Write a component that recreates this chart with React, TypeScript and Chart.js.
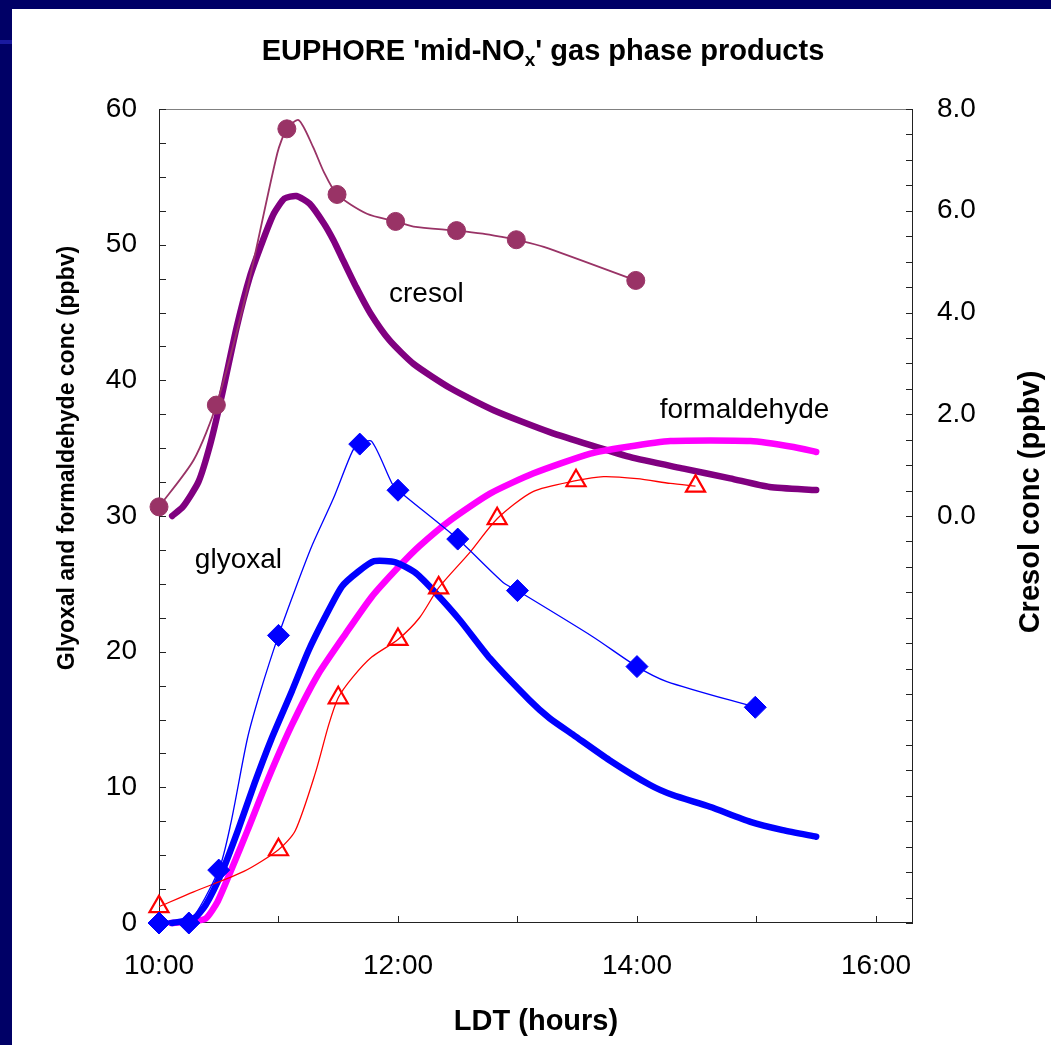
import React, { useEffect, useRef } from "react";
import { Chart, registerables } from "chart.js";

Chart.register(...registerables);

// ---------- axis ticks ----------
const X_LABEL_TICKS = [10, 12, 14, 16];
const LEFT_LABEL_TICKS = [0, 10, 20, 30, 40, 50, 60];
const RIGHT_LABEL_TICKS = [0, 2, 4, 6, 8];

// ---------- cresol (right axis, ppbv) ----------
const cresolObsX = [10.0, 10.48, 11.07, 11.49, 11.98, 12.49, 12.99, 13.99];
const cresolObsY = [0.18, 2.18, 7.61, 6.32, 5.79, 5.61, 5.43, 4.63];
const cresolFitX = [10.0, 10.29, 10.48, 10.73, 10.99, 11.07, 11.17, 11.29, 11.38, 11.49, 11.74, 11.98, 12.13, 12.49, 12.71, 12.88, 12.99, 13.22, 13.99];
const cresolFitY = [0.18, 1.1, 2.18, 4.37, 7.13, 7.61, 7.78, 7.25, 6.76, 6.32, 5.94, 5.79, 5.69, 5.61, 5.55, 5.48, 5.43, 5.29, 4.63];
const cresolModelX = [10.11, 10.2, 10.33, 10.43, 10.53, 10.65, 10.76, 10.87, 10.96, 11.05, 11.15, 11.26, 11.38, 11.46, 11.54, 11.65, 11.77, 11.93, 12.13, 12.44, 12.8, 13.27, 13.94, 14.39, 14.78, 15.11, 15.5];
const cresolModelY = [0, 0.18, 0.67, 1.42, 2.41, 3.71, 4.7, 5.42, 5.94, 6.24, 6.29, 6.14, 5.75, 5.42, 5.03, 4.5, 3.98, 3.45, 2.99, 2.51, 2.08, 1.65, 1.16, 0.93, 0.74, 0.57, 0.51];

// ---------- glyoxal (left axis, ppbv) ----------
const glyoxalObsX = [10.0, 10.25, 10.5, 11.0, 11.68, 12.0, 12.5, 13.0, 14.0, 14.99];
const glyoxalObsY = [0, 0, 3.9, 21.2, 35.3, 31.9, 28.3, 24.5, 18.9, 15.9];
const glyoxalFitX = [10.0, 10.12, 10.25, 10.5, 10.6, 10.74, 10.85, 11.0, 11.14, 11.28, 11.46, 11.62, 11.68, 11.78, 11.95, 12.0, 12.5, 12.88, 13.0, 13.63, 14.0, 14.25, 14.99];
const glyoxalFitY = [0, 0.2, 0, 3.9, 7.3, 13.6, 17.1, 21.2, 24.6, 27.8, 31.3, 34.8, 35.3, 35.5, 32.4, 31.9, 28.3, 25.1, 24.5, 21.1, 18.9, 17.8, 15.9];
const glyoxalModelX = [10.11, 10.29, 10.39, 10.53, 10.66, 10.8, 10.94, 11.11, 11.25, 11.39, 11.53, 11.67, 11.8, 11.98, 12.15, 12.32, 12.52, 12.77, 13.1, 13.27, 13.47, 13.77, 14.11, 14.3, 14.61, 14.95, 15.22, 15.5];
const glyoxalModelY = [0, 0.32, 1.32, 3.82, 6.81, 10.31, 13.55, 17.05, 20.05, 22.55, 24.8, 25.92, 26.67, 26.59, 25.79, 24.29, 22.3, 19.5, 16.43, 15.08, 13.85, 12.0, 10.17, 9.43, 8.57, 7.46, 6.85, 6.36];

// ---------- formaldehyde (left axis, ppbv) ----------
const formObsX = [10.0, 11.0, 11.5, 12.0, 12.34, 12.83, 13.49, 14.49];
const formObsY = [1.2, 5.4, 16.6, 20.9, 24.7, 29.8, 32.6, 32.2];
const formFitX = [10.0, 10.29, 10.71, 11.0, 11.14, 11.31, 11.42, 11.5, 11.62, 11.78, 12.0, 12.18, 12.34, 12.6, 12.83, 13.13, 13.49, 13.72, 14.0, 14.28, 14.49];
const formFitY = [1.2, 2.3, 3.8, 5.4, 6.8, 11.1, 14.6, 16.6, 18.1, 19.6, 20.9, 22.5, 24.7, 27.3, 29.8, 31.8, 32.6, 32.9, 32.75, 32.4, 32.2];
const formModelX = [10.1, 10.26, 10.39, 10.49, 10.6, 10.74, 10.91, 11.11, 11.33, 11.56, 11.78, 12.01, 12.18, 12.44, 12.77, 13.13, 13.61, 13.91, 14.28, 14.95, 15.31, 15.5];
const formModelY = [0, 0.1, 0.32, 1.57, 3.82, 6.81, 10.56, 14.56, 18.3, 21.3, 24.04, 26.29, 27.79, 29.7, 31.65, 33.13, 34.6, 35.09, 35.53, 35.53, 35.09, 34.72];

// ---------- texts ----------
const TITLE_MAIN = "EUPHORE 'mid-NO";
const TITLE_SUB = "x";
const TITLE_END = "' gas phase products";
const X_TITLE = "LDT (hours)";
const LEFT_TITLE = "Glyoxal and formaldehyde conc (ppbv)";
const RIGHT_TITLE = "Cresol conc (ppbv)";
const LABELS = [
  { text: "cresol", x: 11.925, y: 45.8 },
  { text: "glyoxal", x: 10.3, y: 26.2 },
  { text: "formaldehyde", x: 14.19, y: 37.2 },
];

const FONT = "'Liberation Sans', Arial, Helvetica, sans-serif";
const NAVY = "#000066";

const pts = (xs: number[], ys: number[]) => xs.map((x, i) => ({ x, y: ys[i] }));

const framePlugin = {
  id: "frameTicks",
  beforeDatasetsDraw(chart: any) {
    const { ctx, chartArea: a, scales } = chart;
    ctx.save();
    ctx.lineWidth = 1;
    ctx.strokeStyle = "#808080";
    ctx.beginPath();
    ctx.moveTo(a.left, a.top + 0.5);
    ctx.lineTo(a.right, a.top + 0.5);
    ctx.stroke();
    ctx.strokeStyle = "#222";
    ctx.beginPath();
    ctx.moveTo(a.left + 0.5, a.top);
    ctx.lineTo(a.left + 0.5, a.bottom);
    ctx.moveTo(a.right - 0.5, a.top);
    ctx.lineTo(a.right - 0.5, a.bottom);
    ctx.moveTo(a.left, a.bottom - 0.5);
    ctx.lineTo(a.right, a.bottom - 0.5);
    for (let v = 0; v <= 60.001; v += 2.5) {
      const y = Math.round(scales.y.getPixelForValue(v)) + 0.5;
      ctx.moveTo(a.left, y);
      ctx.lineTo(a.left + 7, y);
    }
    for (let v = -8; v <= 8.001; v += 0.5) {
      const y = Math.round(scales.y1.getPixelForValue(v)) + 0.5;
      ctx.moveTo(a.right, y);
      ctx.lineTo(a.right - 7, y);
    }
    for (let h = 11; h <= 16; h += 1) {
      const x = Math.round(scales.x.getPixelForValue(h)) + 0.5;
      ctx.moveTo(x, a.bottom);
      ctx.lineTo(x, a.bottom - 7);
    }
    ctx.stroke();
    ctx.restore();
  },
  afterDraw(chart: any) {
    const { ctx, chartArea: a, scales } = chart;
    ctx.save();
    ctx.fillStyle = "#000";
    const tSize = 29;
    const sSize = Math.round(tSize * 0.65);
    ctx.font = `bold ${tSize}px ${FONT}`;
    const w1 = ctx.measureText(TITLE_MAIN).width;
    const w3 = ctx.measureText(TITLE_END).width;
    ctx.font = `bold ${sSize}px ${FONT}`;
    const w2 = ctx.measureText(TITLE_SUB).width;
    const total = w1 + w2 + w3;
    let tx = 543 - total / 2;
    const ty = 60;
    ctx.textBaseline = "alphabetic";
    ctx.textAlign = "left";
    ctx.font = `bold ${tSize}px ${FONT}`;
    ctx.fillText(TITLE_MAIN, tx, ty);
    tx += w1;
    ctx.font = `bold ${sSize}px ${FONT}`;
    ctx.fillText(TITLE_SUB, tx, ty + 6);
    tx += w2;
    ctx.font = `bold ${tSize}px ${FONT}`;
    ctx.fillText(TITLE_END, tx, ty);

    ctx.textAlign = "center";
    ctx.textBaseline = "middle";
    ctx.font = `bold 29px ${FONT}`;
    ctx.fillText(X_TITLE, (a.left + a.right) / 2, 1022);

    ctx.save();
    ctx.translate(68, 458);
    ctx.rotate(-Math.PI / 2);
    ctx.font = `bold 23px ${FONT}`;
    ctx.fillText(LEFT_TITLE, 0, 0);
    ctx.restore();

    ctx.save();
    ctx.translate(1031, 502);
    ctx.rotate(-Math.PI / 2);
    ctx.font = `bold 29px ${FONT}`;
    ctx.fillText(RIGHT_TITLE, 0, 0);
    ctx.restore();

    ctx.textAlign = "left";
    ctx.textBaseline = "alphabetic";
    ctx.font = `28px ${FONT}`;
    for (const l of LABELS) {
      ctx.fillText(l.text, scales.x.getPixelForValue(l.x), scales.y.getPixelForValue(l.y));
    }
    ctx.restore();
  },
};

export default function App() {
  const ref = useRef<HTMLCanvasElement>(null);
  useEffect(() => {
    const tickFont = { family: FONT, size: 28 };
    const chart = new Chart(ref.current as HTMLCanvasElement, {
      type: "line",
      data: {
        datasets: [
          {
            label: "cresol measured",
            data: pts(cresolObsX, cresolObsY),
            yAxisID: "y1",
            showLine: false,
            pointStyle: "circle",
            pointRadius: 9,
            pointBackgroundColor: "#993366",
            pointBorderColor: "#993366",
            pointBorderWidth: 1,
            clip: false,
          },
          {
            label: "glyoxal measured",
            data: pts(glyoxalObsX, glyoxalObsY),
            yAxisID: "y",
            showLine: false,
            pointStyle: "rectRot",
            pointRadius: 11,
            pointBackgroundColor: "#0000FF",
            pointBorderColor: "#0000FF",
            pointBorderWidth: 1,
            clip: false,
          },
          {
            label: "formaldehyde measured",
            data: pts(formObsX, formObsY),
            yAxisID: "y",
            showLine: false,
            pointStyle: "triangle",
            pointRadius: 11,
            pointBackgroundColor: "rgba(255,255,255,0)",
            pointBorderColor: "#FF0000",
            pointBorderWidth: 2.2,
            clip: false,
          },
          {
            label: "cresol fit",
            data: pts(cresolFitX, cresolFitY),
            yAxisID: "y1",
            borderColor: "#993366",
            borderWidth: 1.8,
            pointRadius: 0,
            tension: 0.25,
            clip: false,
          },
          {
            label: "glyoxal fit",
            data: pts(glyoxalFitX, glyoxalFitY),
            yAxisID: "y",
            borderColor: "#0000FF",
            borderWidth: 1.3,
            pointRadius: 0,
            tension: 0.25,
            clip: false,
          },
          {
            label: "formaldehyde fit",
            data: pts(formFitX, formFitY),
            yAxisID: "y",
            borderColor: "#FF0000",
            borderWidth: 1.3,
            pointRadius: 0,
            tension: 0.25,
            clip: false,
          },
          {
            label: "glyoxal model",
            data: pts(glyoxalModelX, glyoxalModelY),
            yAxisID: "y",
            borderColor: "#0000FF",
            borderWidth: 6.5,
            pointRadius: 0,
            tension: 0.2,
            borderCapStyle: "round",
            borderJoinStyle: "round",
            clip: false,
          },
          {
            label: "formaldehyde model",
            data: pts(formModelX, formModelY),
            yAxisID: "y",
            borderColor: "#FF00FF",
            borderWidth: 6.5,
            pointRadius: 0,
            tension: 0.2,
            borderCapStyle: "round",
            borderJoinStyle: "round",
            clip: false,
          },
          {
            label: "cresol model",
            data: pts(cresolModelX, cresolModelY),
            yAxisID: "y1",
            borderColor: "#800080",
            borderWidth: 6.5,
            pointRadius: 0,
            tension: 0.2,
            borderCapStyle: "round",
            borderJoinStyle: "round",
            clip: false,
          },
        ],
      },
      options: {
        responsive: false,
        animation: false,
        devicePixelRatio: 1,
        layout: { padding: { left: 0, top: 109, right: 0, bottom: 0 } },
        plugins: {
          legend: { display: false },
          tooltip: { enabled: false },
          title: { display: false },
        },
        scales: {
          x: {
            type: "linear",
            position: "bottom",
            min: 10,
            max: 16.31,
            grid: { display: false, drawTicks: false },
            border: { display: false },
            afterBuildTicks: (s: any) => {
              s.ticks = X_LABEL_TICKS.map((v) => ({ value: v }));
            },
            afterFit: (s: any) => {
              s.height = 122;
            },
            ticks: {
              font: tickFont,
              color: "#000",
              padding: 26,
              maxRotation: 0,
              autoSkip: false,
              callback: (v: any) => `${v}:00`,
            },
          },
          y: {
            type: "linear",
            position: "left",
            min: 0,
            max: 60,
            grid: { display: false, drawTicks: false },
            border: { display: false },
            afterBuildTicks: (s: any) => {
              s.ticks = LEFT_LABEL_TICKS.map((v) => ({ value: v }));
            },
            afterFit: (s: any) => {
              s.width = 159;
            },
            ticks: {
              font: tickFont,
              color: "#000",
              padding: 22,
              autoSkip: false,
              callback: (v: any) => `${v}`,
            },
          },
          y1: {
            type: "linear",
            position: "right",
            min: -8,
            max: 8,
            grid: { display: false, drawTicks: false },
            border: { display: false },
            afterBuildTicks: (s: any) => {
              s.ticks = RIGHT_LABEL_TICKS.map((v) => ({ value: v }));
            },
            afterFit: (s: any) => {
              s.width = 138;
            },
            ticks: {
              font: tickFont,
              color: "#000",
              padding: 24,
              autoSkip: false,
              callback: (v: any) => Number(v).toFixed(1),
            },
          },
        },
      },
      plugins: [framePlugin],
    } as any);
    return () => chart.destroy();
  }, []);

  return (
    <div
      style={{
        position: "fixed",
        left: 0,
        top: 0,
        width: 1051,
        height: 1045,
        background: "#fff",
        overflow: "hidden",
      }}
    >
      <div style={{ position: "absolute", left: 0, top: 0, width: 12, height: 1045, background: NAVY }} />
      <div style={{ position: "absolute", left: 0, top: 0, width: 1051, height: 9, background: NAVY }} />
      <div style={{ position: "absolute", left: 0, top: 40, width: 12, height: 4, background: "#1a1aa0" }} />
      <canvas
        ref={ref}
        width={1051}
        height={1045}
        style={{ position: "absolute", left: 0, top: 0, width: 1051, height: 1045 }}
      />
    </div>
  );
}
